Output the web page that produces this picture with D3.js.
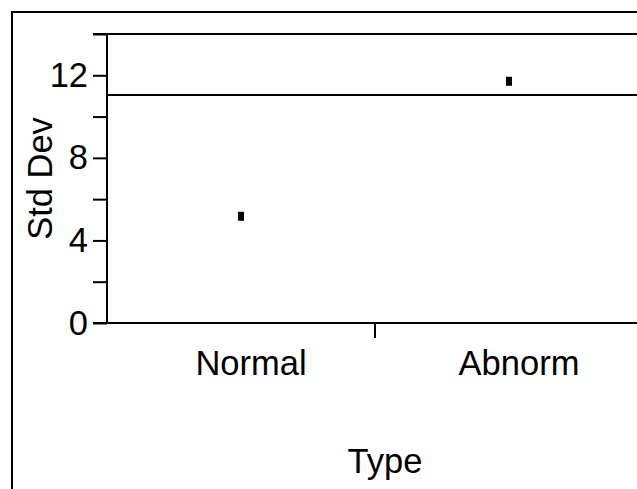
<!DOCTYPE html>
<html>
<head>
<meta charset="utf-8">
<script src="https://cdn.jsdelivr.net/npm/d3@7"></script>
<style>
  body { margin: 0; background: #fff; }
  svg { display: block; font-family: "Liberation Sans", Arial, sans-serif; }
</style>
</head>
<body>
<div id="chart"></div>
<script>
// data
const categories = ['Normal', 'Abnorm'];
const stdDevs = [5.17, 11.71];
const refLine = [11.04];
const yTickValues = [0, 2, 4, 6, 8, 10, 12, 14];
const yLabelValues = [0, 4, 8, 12];

const width = 637;
const height = 489;
const fontSize = 34.5;

const svg = d3
  .select('#chart')
  .append('svg')
  .attr('width', width)
  .attr('height', height);

// outer frame, runs off the right and bottom edges
svg
  .append('rect')
  .attr('x', 12)
  .attr('y', 12)
  .attr('width', 700)
  .attr('height', 600)
  .attr('style', 'fill: none; stroke: #000; stroke-width: 2;');

const y = d3.scaleLinear().domain([0, 14]).range([323, 34]);
const x = d3.scaleBand().domain(categories).range([107, 643]).padding(0);

// y axis
const yAxis = svg
  .append('g')
  .attr('transform', 'translate(107,0)')
  .call(
    d3
      .axisLeft(y)
      .tickValues(yTickValues)
      .tickSize(14)
      .tickPadding(5)
      .tickFormat((d) => (yLabelValues.includes(d) ? d : ''))
  );
yAxis.select('.domain').attr('stroke-width', 2).attr('d', `M0,${y(14)}V${y(0)}`);
yAxis.selectAll('.tick line').attr('stroke-width', 2);
yAxis
  .selectAll('.tick text')
  .attr('font-size', fontSize)
  .attr('font-family', '"Liberation Sans", Arial, sans-serif')
  .attr('fill', '#000');

// top frame line of the plot (from the 14 tick across)
svg
  .append('line')
  .attr('x1', 93)
  .attr('x2', width + 10)
  .attr('y1', y(14))
  .attr('y2', y(14))
  .attr('style', 'stroke: #000; stroke-width: 2;');

// x axis
const xAxis = svg
  .append('g')
  .attr('transform', `translate(0,${y(0)})`)
  .call(d3.axisBottom(x).tickSize(0).tickPadding(28));
xAxis.select('.domain').attr('stroke-width', 2).attr('d', `M93,0H${width + 10}`);
xAxis
  .selectAll('.tick text')
  .attr('font-size', fontSize)
  .attr('font-family', '"Liberation Sans", Arial, sans-serif')
  .attr('fill', '#000')
  .attr('dx', 10);

// tick between the two categories
svg
  .append('line')
  .attr('x1', x(categories[1]))
  .attr('x2', x(categories[1]))
  .attr('y1', y(0))
  .attr('y2', y(0) + 15)
  .attr('style', 'stroke: #000; stroke-width: 2;');

// reference line
svg
  .selectAll('.ref')
  .data(refLine)
  .enter()
  .append('line')
  .attr('class', 'ref')
  .attr('x1', 107)
  .attr('x2', width + 10)
  .attr('y1', (d) => y(d))
  .attr('y2', (d) => y(d))
  .attr('style', 'stroke: #000; stroke-width: 2;');

// points
svg
  .selectAll('.pt')
  .data(stdDevs)
  .enter()
  .append('rect')
  .attr('class', 'pt')
  .attr('x', (d, i) => x(categories[i]) + x.bandwidth() / 2 - 3)
  .attr('y', (d) => y(d) - 4.5)
  .attr('width', 6)
  .attr('height', 9)
  .attr('fill', '#000');

// axis titles
svg
  .append('text')
  .attr('transform', `translate(52,${(y(0) + y(14)) / 2}) rotate(-90)`)
  .attr('text-anchor', 'middle')
  .attr('font-size', fontSize)
  .text('Std Dev');

svg
  .append('text')
  .attr('x', 385)
  .attr('y', 473)
  .attr('text-anchor', 'middle')
  .attr('font-size', fontSize)
  .text('Type');
</script>
</body>
</html>
